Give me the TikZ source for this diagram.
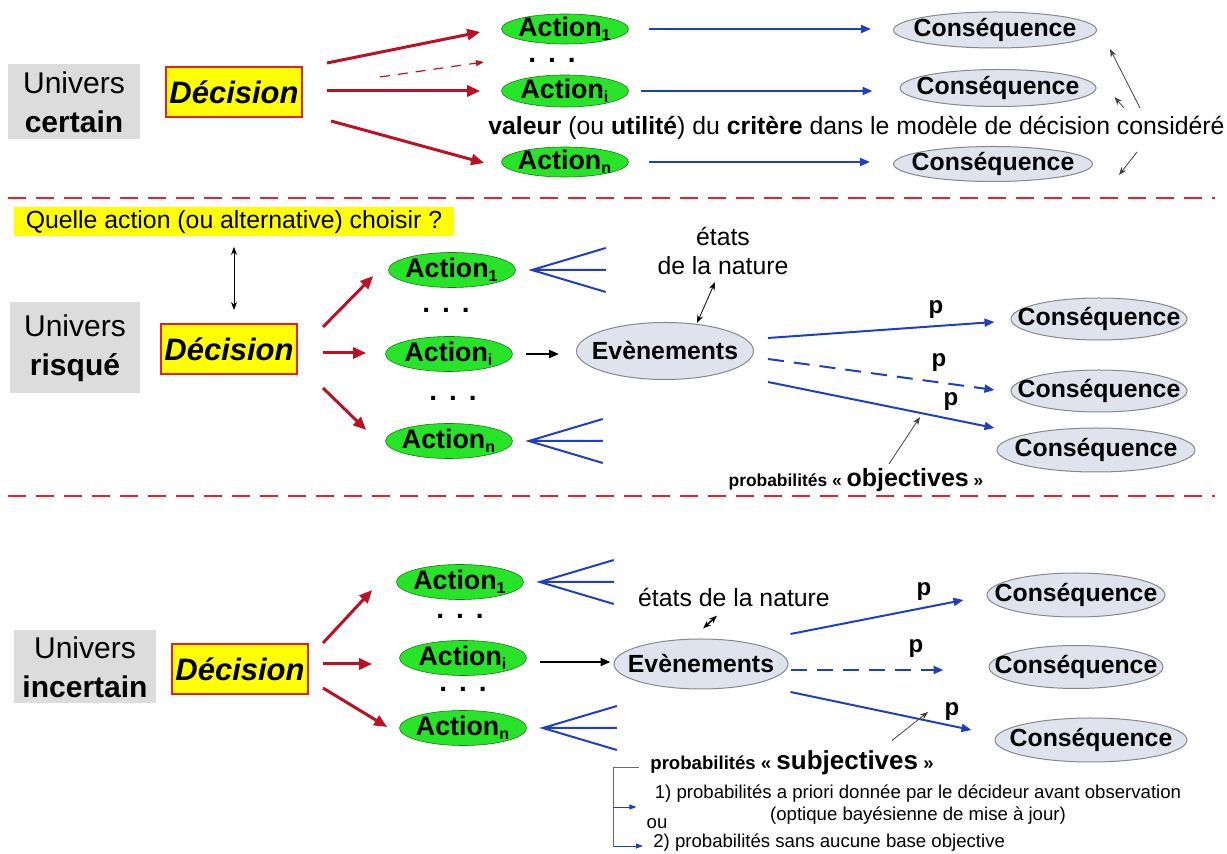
\documentclass[tikz,border=0pt]{standalone}
\usepackage{fontspec}
\setmainfont{Liberation Sans}
\usepackage{tikz}
\usetikzlibrary{shapes.geometric, arrows.meta, calc}
\definecolor{UniGray}   {RGB}{220, 220, 220}
\definecolor{DecYellow} {RGB}{255, 255,   0}
\definecolor{DecRed}    {RGB}{228,  32,  32}
\definecolor{ArrRed}    {RGB}{190,  16,  36}
\definecolor{ActGreen}  {RGB}{ 40, 228,  40}
\definecolor{ConsFill}  {RGB}{222, 227, 238}
\definecolor{ConsLine}  {RGB}{135, 135, 140}
\definecolor{ArrBlue}   {RGB}{ 32,  62, 196}
\definecolor{SepRed}    {RGB}{236,  32,  44}
\newcommand{\actsub}[1]{\textsubscript{\fontsize{8}{8}\selectfont #1}}

\tikzset{
  univers/.style={fill=UniGray, align=center, inner sep=0pt,
                  font=\fontsize{15}{19.5}\selectfont},
  decision/.style={draw=DecRed, line width=1pt, fill=DecYellow,
                   minimum width=68pt, minimum height=25pt, inner sep=0pt,
                   font=\fontsize{15.5}{18}\selectfont\bfseries\itshape},
  action/.style={ellipse, draw=ActGreen!55!black, line width=0.3pt,
                 fill=ActGreen, inner xsep=-12pt, inner ysep=-6pt,
                 minimum width=63.5pt, minimum height=17.5pt,
                 font=\fontsize{13.4}{15}\selectfont\bfseries},
  consq/.style={ellipse, draw=ConsLine, line width=0.5pt, fill=ConsFill,
                inner xsep=-14pt, inner ysep=-6pt,
                font=\fontsize{12.4}{15}\selectfont\bfseries},
  dotsn/.style={inner sep=0pt, font=\fontsize{14}{14}\selectfont\bfseries},
  txt/.style={inner sep=0pt, font=\fontsize{12.4}{14.5}\selectfont},
  small/.style={inner sep=0pt, font=\fontsize{9.3}{11}\selectfont},
  plab/.style={inner sep=0pt, font=\fontsize{12}{14}\selectfont\bfseries},
  redarr/.style={ArrRed, line width=1.5pt, -{Triangle[length=6.5pt, width=5.5pt]}},
  bluearr/.style={ArrBlue, line width=1pt, -{Triangle[length=5pt, width=4pt]}},
  blackarr/.style={black, line width=1pt, -{Triangle[length=5pt, width=4pt]}},
  thinarr/.style={black!75, line width=0.4pt, -{Stealth[length=4pt, width=3pt]}},
  dblarr/.style={black, line width=0.4pt, {Stealth[length=4pt, width=3pt]}-{Stealth[length=4pt, width=3pt]}},
  fork/.style={ArrBlue, line width=1pt},
  sepline/.style={SepRed, line width=1.2pt, dash pattern=on 9pt off 5pt}
}

\begin{document}
\begin{tikzpicture}[x=0.5pt, y=-0.5pt]
\useasboundingbox (0,0) rectangle (1227,854);

% univers certain
\node[univers, minimum width=66pt, minimum height=37.5pt] (u1) at (74,102) {Univers\\\textbf{certain}};
\node[decision] (d1) at (234,92) {Décision};
\node[action, minimum height=15pt] (a1)  at (565,29)  {Action\actsub{1}};
\node[dotsn]                        (p1)  at (552,60)  {.\hspace{6pt}.\hspace{6pt}.};
\node[action, minimum height=16pt] (ai1) at (565,91)  {Action\actsub{i}};
\node[action, minimum height=15pt] (an1) at (565,162) {Action\actsub{n}};
\node[consq, minimum width=101.5pt, minimum height=18pt]   (c11) at (995,30)  {Conséquence};
\node[consq, minimum width=98pt,    minimum height=18.5pt] (c12) at (998,88)  {Conséquence};
\node[consq, minimum width=99.5pt,  minimum height=17.5pt] (c13) at (993,164) {Conséquence};
\node[txt, anchor=west] (crit) at (488,128)
  {\textbf{valeur} (ou \textbf{utilité}) du \textbf{critère} dans le modèle de décision considéré};

\draw[redarr] ($(d1.east)+(24,-29)$) -- ($(a1.west)+(-21,3)$);
\draw[ArrRed, line width=0.6pt, dash pattern=on 5pt off 4pt, -{Triangle[length=4pt, width=3pt]}]
  ($(d1.east)+(77,-15)$) -- ($(p1.west)+(-44,2)$);
\draw[redarr] ($(d1.east)+(24,-1)$) -- ($(ai1.west)+(-21,0)$);
\draw[redarr] ($(d1.east)+(28,29)$) -- ($(an1.west)+(-17,1)$);
\draw[bluearr, shorten <=10pt, shorten >=11pt] (a1.east) -- (a1.east -| c11.west);
\draw[bluearr, shorten <=6pt, shorten >=13.5pt] (ai1.east) -- (ai1.east -| c12.west);
\draw[bluearr, shorten <=10pt, shorten >=11.5pt] (an1.east) -- (an1.east -| c13.west);

\coordinate (k1) at (1140,108);
\coordinate (k2) at (1124,108);
\coordinate (k3) at (1137,152);
\draw[thinarr] (k1) -- ($(c11.east)+(13,19)$);
\draw[thinarr] (k2) -- ($(c12.east)+(18,9)$);
\draw[thinarr] (k3) -- ($(c13.east)+(26,11)$);

\draw[sepline] (8,198) -- (1215,198);

% univers risque
\node[txt, fill=DecYellow, inner xsep=6pt, minimum height=14.5pt] (q) at (234,222)
  {Quelle action (ou alternative) choisir ?};
\node[univers, minimum width=65pt, minimum height=45.5pt] (u2) at (75,348) {Univers\\\textbf{risqué}};
\node[decision] (d2) at (229,349) {Décision};
\node[action] (a2)  at (452,270) {Action\actsub{1}};
\node[dotsn]  (p2a) at (446,310) {.\hspace{6pt}.\hspace{6pt}.};
\node[action] (ai2) at (449,354) {Action\actsub{i}};
\node[dotsn]  (p2b) at (453,398) {.\hspace{6pt}.\hspace{6pt}.};
\node[action] (an2) at (449,441) {Action\actsub{n}};
\node[consq, minimum width=88.5pt, minimum height=28.5pt] (ev2) at (665,351) {Evènements};
\node[txt, align=center] (etats2) at (723,251) {états\\de la nature};
\node[consq, minimum width=88pt, minimum height=21pt] (c21) at (1099,319) {Conséquence};
\node[consq, minimum width=88pt, minimum height=21pt] (c22) at (1099,391) {Conséquence};
\node[consq, minimum width=99pt, minimum height=22pt] (c23) at (1096,450) {Conséquence};
\node[plab] (pr1) at (936,310) {p};
\node[plab] (pr2) at (939,363) {p};
\node[plab] (pr3) at (951,402) {p};
\node[inner sep=0pt, font=\bfseries] (objl) at (856,480)
  {{\fontsize{8.7}{10}\selectfont probabilités «~}{\fontsize{12.5}{14}\selectfont objectives}{\fontsize{8.7}{10}\selectfont~»}};

\draw[dblarr, shorten <=5pt, shorten >=6.5pt] (q.south) -- (q.south |- d2.north);
\draw[redarr] ($(d2.east)+(25,-22)$) -- ($(a2.west)+(-15,6)$);
\draw[redarr] ($(d2.east)+(25,4)$) -- ($(ai2.west)+(-19,-1)$);
\draw[redarr] ($(d2.east)+(25,39)$) -- ($(an2.west)+(-19,-11)$);
\draw[blackarr, shorten <=6.5pt, shorten >=8.5pt] (ai2.east) -- (ai2.east -| ev2.west);
\draw[dblarr] ($(etats2.south)+(-8,7)$) -- ($(ev2.north)+(32,1)$);
\draw[bluearr] ($(ev2.east)+(14,-13)$) -- ($(c21.west)+(-16,3)$);
\draw[bluearr, dash pattern=on 8pt off 5pt] ($(ev2.east)+(14,8)$) -- ($(c22.west)+(-16,-1)$);
\draw[bluearr] ($(ev2.east)+(14,31)$) -- ($(c23.west)+(-2,-22)$);
\coordinate (ob) at (920,417);
\draw[thinarr] ($(objl.north)+(33,-4)$) -- (ob);

\draw[sepline] (8,496) -- (1215,496);

% univers incertain
\node[univers, minimum width=71pt, minimum height=36.5pt] (u3) at (85,667) {Univers\\\textbf{incertain}};
\node[decision] (d3) at (240,669) {Décision};
\node[action] (a3)  at (460,582) {Action\actsub{1}};
\node[dotsn]  (p3a) at (460,616) {.\hspace{6pt}.\hspace{6pt}.};
\node[action] (ai3) at (463,658) {Action\actsub{i}};
\node[dotsn]  (p3b) at (463,689) {.\hspace{6pt}.\hspace{6pt}.};
\node[action] (an3) at (463,728) {Action\actsub{n}};
\node[consq, minimum width=87pt, minimum height=25pt] (ev3) at (701,664) {Evènements};
\node[txt] (etats3) at (734,597) {états de la nature};
\node[consq, minimum width=89pt, minimum height=22pt] (c31) at (1076,595) {Conséquence};
\node[consq, minimum width=87pt, minimum height=21.5pt] (c32) at (1076,667) {Conséquence};
\node[consq, minimum width=96pt, minimum height=22pt] (c33) at (1091,740) {Conséquence};
\node[plab] (pr4) at (924,592) {p};
\node[plab] (pr5) at (916,649) {p};
\node[plab] (pr6) at (952,712) {p};
\node[inner sep=0pt, font=\bfseries] (subj) at (792,763)
  {{\fontsize{9.3}{11}\selectfont probabilités «~}{\fontsize{13}{15}\selectfont subjectives}{\fontsize{9.3}{11}\selectfont~»}};
\node[small, align=center] (txt1) at (918,805)
  {1) probabilités a priori donnée par le décideur avant observation\\(optique bayésienne de mise à jour)};
\node[small] (ou) at (657,824) {ou};
\node[small, anchor=west] (txt2) at (653,843) {2) probabilités sans aucune base objective};

\draw[redarr] ($(d3.east)+(14,-26)$) -- ($(a3.west)+(-24,8)$);
\draw[redarr] ($(d3.east)+(14,-5)$) -- ($(ai3.west)+(-27,6)$);
\draw[redarr] ($(d3.east)+(14,19)$) -- ($(an3.west)+(-12,-1)$);
\draw[blackarr, shorten <=6.5pt, shorten >=1.5pt] ([yshift=-2pt]ai3.east) -- ([yshift=-2pt]ai3.east -| ev3.west);
\draw[dblarr, line width=0.8pt] ($(etats3.south)+(-17,9)$) -- ($(ev3.north)+(2,-10)$);
\draw[bluearr] ($(ev3.east)+(2,-30)$) -- ($(c31.west)+(-23,5)$);
\draw[bluearr, dash pattern=on 8pt off 5pt] ($(ev3.east)+(2,6)$) -- ($(c32.west)+(-45,3)$);
\draw[bluearr] ($(ev3.east)+(2,28)$) -- ($(c33.west)+(-23,-10)$);
\coordinate (sb) at (928,712);
\draw[thinarr] ($(subj.north)+(100,-10)$) -- (sb);

\foreach \n in {a2, an2, a3, an3}
  \draw[fork] ($(\n.east)+(90,-22)$) -- ($(\n.east)+(16,0)$) -- ($(\n.east)+(90,22)$)
              ($(\n.east)+(16,0)$) -- ($(\n.east)+(90,0)$);

\coordinate (bk) at (613,767);
\coordinate (o1) at (613,807);
\coordinate (o2) at (613,846);
\draw[black!60, line width=0.4pt] ($(subj.west)+(-11,4)$) -- (bk) -- (o2);
\draw[ArrBlue, line width=0.4pt, -{Triangle[length=3.5pt, width=2.5pt]}] (o1) -- ($(o1 -| txt1.west)+(-18,0)$);
\draw[ArrBlue, line width=0.4pt, -{Triangle[length=3.5pt, width=2.5pt]}] (o2) -- ($(o2 -| txt2.west)+(-10,0)$);
\end{tikzpicture}
\end{document}
